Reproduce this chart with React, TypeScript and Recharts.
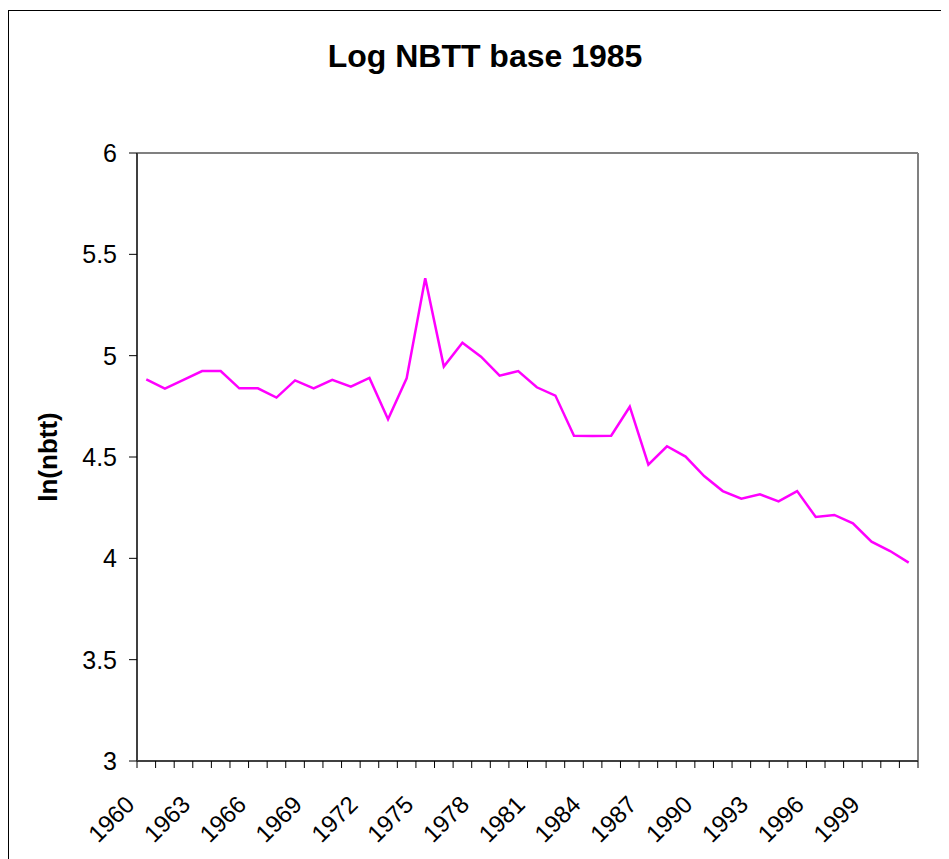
import React from "react";
import { LineChart, Line, XAxis, YAxis, ReferenceLine } from "recharts";

// years on the category axis
const years = [
  1960, 1961, 1962, 1963, 1964, 1965, 1966, 1967, 1968, 1969,
  1970, 1971, 1972, 1973, 1974, 1975, 1976, 1977, 1978, 1979,
  1980, 1981, 1982, 1983, 1984, 1985, 1986, 1987, 1988, 1989,
  1990, 1991, 1992, 1993, 1994, 1995, 1996, 1997, 1998, 1999,
  2000, 2001,
];

// ln(nbtt)
const lnNbtt = [
  4.883, 4.837, 4.881, 4.924, 4.924, 4.839, 4.839, 4.793, 4.878, 4.839,
  4.881, 4.847, 4.89, 4.686, 4.888, 5.382, 4.946, 5.064, 4.995, 4.901,
  4.924, 4.844, 4.803, 4.605, 4.604, 4.605, 4.748, 4.462, 4.553, 4.502,
  4.406, 4.332, 4.294, 4.316, 4.281, 4.332, 4.204, 4.214, 4.173, 4.082,
  4.036, 3.979,
];

const yTicks = [3, 3.5, 4, 4.5, 5, 5.5, 6];
const labelEvery = 3;

const chartData = years.map((year, i) => ({ idx: i, year, value: lnNbtt[i] }));

// tick marks sit between the categories, like an Excel category axis
const boundaries = years.map((_, i) => i - 0.5).concat([years.length - 0.5]);

const FONT = "'Liberation Sans', Arial, sans-serif";

const YearTick = (props: any) => {
  const { x, y, payload } = props;
  const k = Math.round(payload.value + 0.5);
  if (k % labelEvery !== 0 || k >= years.length) return null;
  const tx = x - 1;
  const ty = y + 38;
  return (
    <text
      x={tx}
      y={ty}
      transform={`rotate(-45, ${tx}, ${ty})`}
      textAnchor="end"
      fontSize={24}
      fontFamily={FONT}
      fill="#000"
    >
      {years[k]}
    </text>
  );
};

const App = () => {
  return (
    <div
      style={{
        position: "relative",
        marginTop: 2,
        width: 940,
        height: 848,
        borderLeft: "1px solid #000",
        borderTop: "1px solid #000",
        background: "#fff",
      }}
    >
      <style>{"body{overflow:hidden;background:#fff}"}</style>
      <LineChart
        width={940}
        height={848}
        data={chartData}
        margin={{ top: 142, right: 31, bottom: 38, left: 68 }}
      >
        <XAxis
          dataKey="idx"
          type="number"
          domain={[-0.5, years.length - 0.5]}
          allowDataOverflow
          ticks={boundaries}
          interval={0}
          height={60}
          tickSize={7}
          tickMargin={0}
          axisLine={{ stroke: "#404040", strokeWidth: 2 }}
          tickLine={{ stroke: "#000", strokeWidth: 1 }}
          tick={<YearTick />}
        />
        <YAxis
          type="number"
          domain={[3, 6]}
          ticks={yTicks}
          interval={0}
          width={60}
          tickSize={8}
          tickMargin={12}
          axisLine={{ stroke: "#404040", strokeWidth: 2 }}
          tickLine={{ stroke: "#000", strokeWidth: 1 }}
          tick={{ fontSize: 25, fontFamily: FONT, fill: "#000" }}
        />
        <ReferenceLine y={6} stroke="#808080" strokeWidth={2} />
        <ReferenceLine x={years.length - 0.5} stroke="#808080" strokeWidth={2} />
        <Line
          type="linear"
          dataKey="value"
          stroke="#ff00ff"
          strokeWidth={2.5}
          dot={false}
          isAnimationActive={false}
        />
      </LineChart>
      <svg
        width={940}
        height={848}
        style={{ position: "absolute", left: 0, top: 0, pointerEvents: "none" }}
      >
        <text
          x={476}
          y={56}
          textAnchor="middle"
          fontSize={32}
          fontWeight="bold"
          fontFamily={FONT}
          fill="#000"
        >
          Log NBTT base 1985
        </text>
        <text
          x={48}
          y={446}
          transform="rotate(-90, 48, 446)"
          textAnchor="middle"
          fontSize={26}
          fontWeight="bold"
          fontFamily={FONT}
          fill="#000"
        >
          ln(nbtt)
        </text>
      </svg>
    </div>
  );
};

export default App;
